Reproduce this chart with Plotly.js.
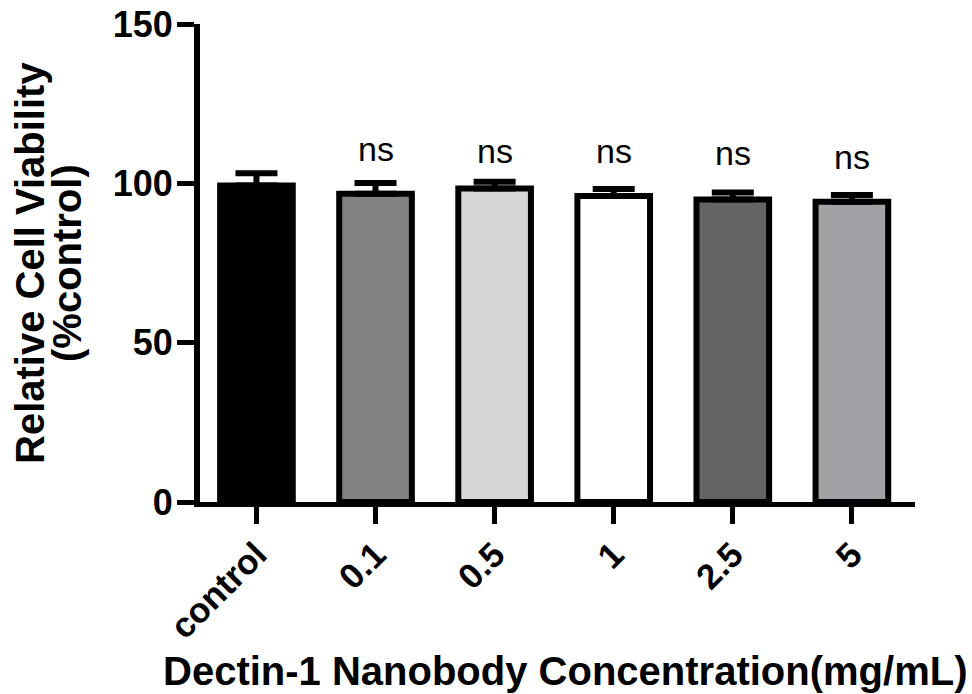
<!DOCTYPE html>
<html>
<head>
<meta charset="utf-8">
<script src="https://cdn.plot.ly/plotly-3.0.1.min.js"></script>
<style>
  html, body { margin: 0; padding: 0; background: #ffffff; }
  #chart { width: 972px; height: 694px; }
</style>
</head>
<body>
<div id="chart"></div>
<script>
// ---- data ----
const categories = ["control", "0.1", "0.5", "1", "2.5", "5"];
const viability = [99.3, 96.7, 98.4, 96.0, 94.9, 94.2];
const errorUp = [3.9, 3.4, 2.1, 2.2, 2.2, 2.1];
const errorDown = [0, 0, 0, 0, 0, 0];
const barColors = ["#000000", "#828282", "#d6d6d6", "#ffffff", "#646464", "#a2a2a6"];
const sigLabels = ["", "ns", "ns", "ns", "ns", "ns"];
const sigY = [0, 110.8, 110.2, 110.0, 109.6, 108.4];
const yTicks = [0, 50, 100, 150];

const FONT = "Liberation Sans, Arial, Helvetica, sans-serif";

const trace = {
  type: "bar",
  x: categories,
  y: viability,
  width: 0.61,
  marker: { color: barColors, line: { color: "#000000", width: 6 } },
  error_y: {
    type: "data",
    symmetric: false,
    array: errorUp,
    arrayminus: errorDown,
    color: "#000000",
    thickness: 6,
    width: 21
  },
  hoverinfo: "x+y"
};

const annotations = [];
categories.forEach((c, i) => {
  if (sigLabels[i]) {
    annotations.push({
      x: i, y: sigY[i], xref: "x", yref: "y",
      text: sigLabels[i], showarrow: false,
      xanchor: "center", yanchor: "middle",
      font: { family: FONT, size: 34, color: "#000000" }
    });
  }
});
annotations.push({
  xref: "paper", yref: "paper", x: 0, y: 0.5,
  xshift: -170, text: "Relative Cell Viability", textangle: -90,
  showarrow: false, xanchor: "center", yanchor: "middle",
  font: { family: FONT, size: 40, weight: "bold", color: "#000000" }
});
annotations.push({
  xref: "paper", yref: "paper", x: 0, y: 0.5,
  xshift: -133, text: "(%control)", textangle: -90,
  showarrow: false, xanchor: "center", yanchor: "middle",
  font: { family: FONT, size: 40, weight: "bold", color: "#000000" }
});
annotations.push({
  xref: "paper", yref: "paper", x: 0.5, y: 0,
  xshift: 7, yshift: -169, text: "Dectin-1 Nanobody Concentration(mg/mL)",
  showarrow: false, xanchor: "center", yanchor: "middle",
  font: { family: FONT, size: 40, weight: "bold", color: "#000000" }
});

const layout = {
  width: 972, height: 694,
  margin: { l: 200, r: 57, t: 24, b: 192, pad: 0 },
  paper_bgcolor: "#ffffff", plot_bgcolor: "#ffffff",
  showlegend: false,
  xaxis: {
    type: "category",
    range: [-0.474, 5.53],
    showline: true, linecolor: "#000000", linewidth: 5,
    ticks: "outside", ticklen: 17, tickwidth: 5, tickcolor: "#000000",
    tickangle: -45,
    ticklabelstandoff: -4,
    tickfont: { family: FONT, size: 35, weight: "bold", color: "#000000" },
    showgrid: false, zeroline: false, fixedrange: true
  },
  yaxis: {
    range: [0, 150],
    tickvals: yTicks,
    ticktext: yTicks.map(String),
    showline: true, linecolor: "#000000", linewidth: 6,
    ticks: "outside", ticklen: 17, tickwidth: 5, tickcolor: "#000000",
    ticklabelstandoff: -3,
    tickfont: { family: FONT, size: 36, weight: "bold", color: "#000000" },
    showgrid: false, zeroline: false, fixedrange: true
  },
  annotations: annotations
};

Plotly.newPlot("chart", [trace], layout, { displayModeBar: false, staticPlot: true });
</script>
</body>
</html>
